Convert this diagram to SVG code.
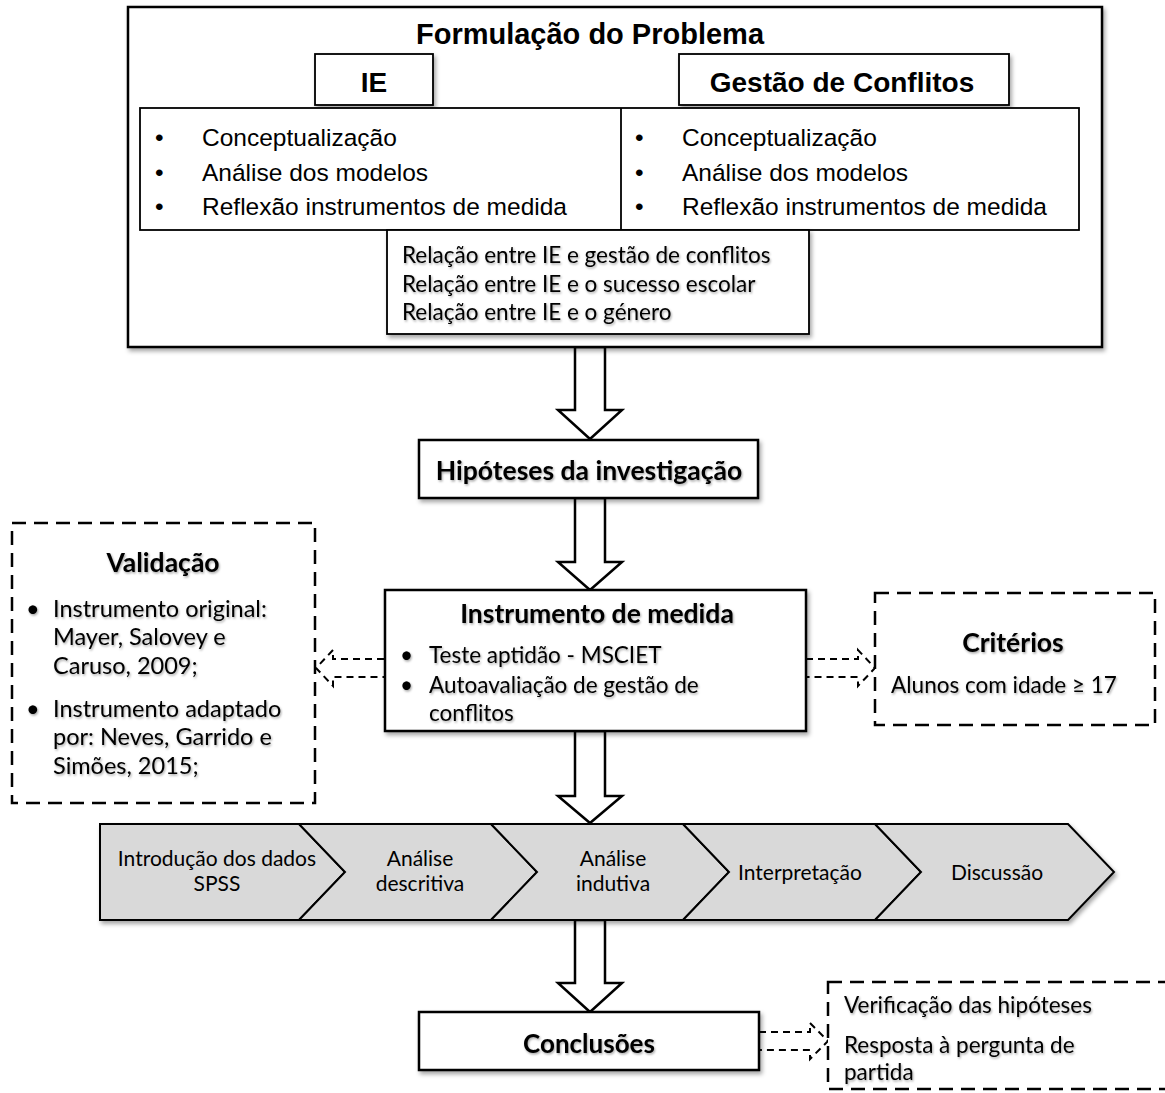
<svg xmlns="http://www.w3.org/2000/svg" width="1165" height="1093" viewBox="0 0 1165 1093">
<defs>
<filter id="sh" x="-5%" y="-5%" width="115%" height="125%"><feDropShadow dx="2" dy="3" stdDeviation="2" flood-color="#000" flood-opacity="0.35"/></filter>
<filter id="tsh" x="-5%" y="-20%" width="115%" height="160%"><feDropShadow dx="1" dy="1.5" stdDeviation="1" flood-color="#000" flood-opacity="0.35"/></filter>
<style>
.box{fill:#fff;stroke:#000;stroke-width:2.5}
.thin{fill:#fff;stroke:#000;stroke-width:1.8}
.dash{fill:#fff;stroke:#000;stroke-width:2.5;stroke-dasharray:14 8}
.darr{fill:#fff;stroke:#000;stroke-width:2;stroke-dasharray:7 5}
.barr{fill:#fff;stroke:#000;stroke-width:2.5;stroke-linejoin:miter}
.chev{fill:#d9d9d9;stroke:#000;stroke-width:2}
.ah{font-family:"Liberation Sans",Arial,sans-serif;fill:#000}
.ahb{font-family:"Liberation Sans",Arial,sans-serif;font-weight:bold;fill:#000}
.c{font-family:Lato,"Open Sans",sans-serif;fill:#000}
.cb{font-family:Lato,"Open Sans",sans-serif;font-weight:bold;fill:#000}
</style>
</defs>

<g id="connectors">
<path class="barr" d="M575,347 L605,347 L605,410 L622,410 L590,439 L558,410 L575,410 Z"/>
<path class="barr" d="M575,498 L605,498 L605,562 L622,562 L590,590 L558,562 L575,562 Z"/>
<path class="barr" d="M575,731 L605,731 L605,796 L622,796 L590,823 L558,796 L575,796 Z"/>
<path class="barr" d="M575,920 L605,920 L605,983 L622,983 L590,1012 L558,983 L575,983 Z"/>
<path class="darr" d="M384,659 L333,659 L333,650 L316,668 L333,686 L333,677 L384,677"/>
<path class="darr" d="M806,659 L858,659 L858,650 L875,668 L858,686 L858,677 L806,677"/>
<path class="darr" d="M759,1032 L810,1032 L810,1023 L828,1041 L810,1059 L810,1050 L759,1050"/>
</g>

<g id="formulacao">
<rect class="box" x="128" y="7" width="974" height="340" filter="url(#sh)"/>
<text class="ahb" x="590" y="44" font-size="29" text-anchor="middle">Formulação do Problema</text>
</g>
<g id="ie">
<rect class="thin" x="315" y="54" width="118" height="51" filter="url(#sh)"/>
<text class="ahb" x="374" y="92" font-size="28" text-anchor="middle">IE</text>
</g>
<g id="gestao">
<rect class="thin" x="679" y="54" width="330" height="51" filter="url(#sh)"/>
<text class="ahb" x="842" y="92" font-size="28" text-anchor="middle">Gestão de Conflitos</text>
</g>
<g id="topicos">
<rect class="thin" x="140" y="108" width="939" height="122"/>
<line x1="621" y1="108" x2="621" y2="230" stroke="#000" stroke-width="1.8"/>
<g class="ah" font-size="24.5">
<text x="155" y="146">•</text><text x="202" y="146">Conceptualização</text>
<text x="155" y="181">•</text><text x="202" y="181">Análise dos modelos</text>
<text x="155" y="215">•</text><text x="202" y="215">Reflexão instrumentos de medida</text>
<text x="635" y="146">•</text><text x="682" y="146">Conceptualização</text>
<text x="635" y="181">•</text><text x="682" y="181">Análise dos modelos</text>
<text x="635" y="215">•</text><text x="682" y="215">Reflexão instrumentos de medida</text>
</g>
</g>
<g id="relacao">
<rect class="thin" x="387" y="230" width="422" height="104" filter="url(#sh)"/>
<g class="c" font-size="22.5" filter="url(#tsh)">
<text x="402" y="263">Relação entre IE e gestão de conflitos</text>
<text x="402" y="292">Relação entre IE e o sucesso escolar</text>
<text x="402" y="320">Relação entre IE e o género</text>
</g>
</g>

<g id="hipoteses">
<rect class="box" x="419" y="440" width="339" height="58" filter="url(#sh)"/>
<text class="cb" x="589" y="480" font-size="26.5" text-anchor="middle" filter="url(#tsh)">Hipóteses da investigação</text>
</g>

<g id="instrumento">
<rect class="box" x="385" y="590" width="421" height="141" filter="url(#sh)"/>
<g filter="url(#tsh)">
<text class="cb" x="597" y="623" font-size="26.5" text-anchor="middle">Instrumento de medida</text>
<text class="c" x="400" y="663" font-size="22.5">•</text>
<text class="c" x="429" y="663" font-size="22.5">Teste aptidão - MSCIET</text>
<text class="c" x="400" y="693" font-size="22.5">•</text>
<text class="c" x="429" y="693" font-size="22.5">Autoavaliação de gestão de</text>
<text class="c" x="429" y="721" font-size="22.5">conflitos</text>
</g>
</g>

<g id="validacao">
<rect class="dash" x="12" y="523" width="303" height="280"/>
<g filter="url(#tsh)">
<text class="cb" x="163" y="572" font-size="26.5" text-anchor="middle">Validação</text>
<g class="c" font-size="23.5">
<text x="26" y="617">•</text><text x="53" y="617">Instrumento original:</text>
<text x="53" y="645">Mayer, Salovey e</text>
<text x="53" y="674">Caruso, 2009;</text>
<text x="26" y="717">•</text><text x="53" y="717">Instrumento adaptado</text>
<text x="53" y="745">por: Neves, Garrido e</text>
<text x="53" y="774">Simões, 2015;</text>
</g>
</g>
</g>

<g id="criterios">
<rect class="dash" x="875" y="593" width="280" height="132"/>
<g filter="url(#tsh)">
<text class="cb" x="1013" y="652" font-size="26.5" text-anchor="middle">Critérios</text>
<text class="c" x="1004" y="693" font-size="22.5" text-anchor="middle">Alunos com idade ≥ 17</text>
</g>
</g>

<g id="etapas" filter="url(#sh)">
<g id="etapa1"><polygon class="chev" points="100,824 299,824 345,872 299,920 100,920"/></g>
<g id="etapa2"><polygon class="chev" points="299,824 491,824 537,872 491,920 299,920 345,872"/></g>
<g id="etapa3"><polygon class="chev" points="491,824 683,824 729,872 683,920 491,920 537,872"/></g>
<g id="etapa4"><polygon class="chev" points="683,824 875,824 921,872 875,920 683,920 729,872"/></g>
<g id="etapa5"><polygon class="chev" points="875,824 1068,824 1114,872 1068,920 875,920 921,872"/></g>
</g>
<g class="c" font-size="21" text-anchor="middle">
<text x="217" y="866">Introdução dos dados</text><text x="217" y="891">SPSS</text>
<text x="420" y="866">Análise</text><text x="420" y="891">descritiva</text>
<text x="613" y="866">Análise</text><text x="613" y="891">indutiva</text>
<text x="800" y="880">Interpretação</text>
<text x="997" y="880">Discussão</text>
</g>

<g id="conclusoes">
<rect class="box" x="419" y="1012" width="340" height="58" filter="url(#sh)"/>
<text class="cb" x="589" y="1053" font-size="26" text-anchor="middle" filter="url(#tsh)">Conclusões</text>
</g>

<g id="resultados">
<rect class="dash" x="828" y="982" width="350" height="107"/>
<g class="c" font-size="22.5" filter="url(#tsh)">
<text x="844" y="1013">Verificação das hipóteses</text>
<text x="844" y="1053">Resposta à pergunta de</text>
<text x="844" y="1080">partida</text>
</g>
</g>
</svg>
